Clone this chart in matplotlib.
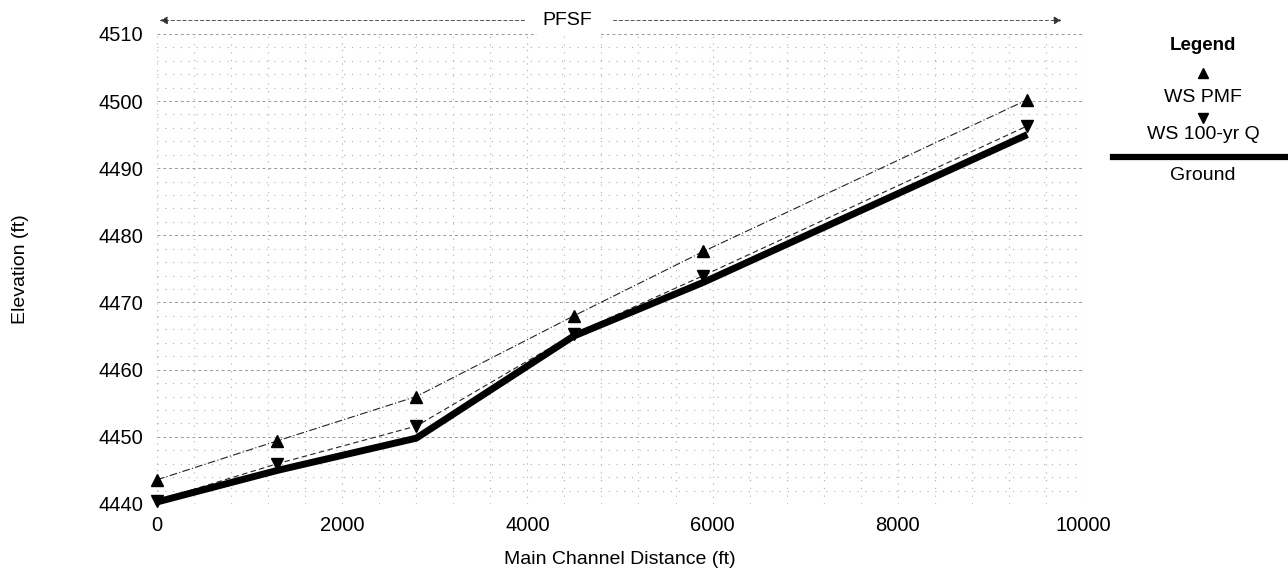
import matplotlib.pyplot as plt
from matplotlib.ticker import MultipleLocator

plt.rcParams['font.family'] = ['Liberation Sans', 'DejaVu Sans']

# data
distance = [0, 1300, 2800, 4500, 5900, 9400]
ws_pmf = [4443.6, 4449.4, 4456.0, 4468.0, 4477.6, 4500.2]
ws_100yr = [4440.5, 4446.0, 4451.6, 4465.3, 4474.0, 4496.3]
ground = [4440.3, 4445.0, 4449.8, 4465.0, 4473.0, 4495.0]

fig = plt.figure(figsize=(12.88, 5.74), dpi=100)
ax = fig.add_axes([0.1219, 0.122, 0.7189, 0.819])

# grid - faint, like the scanned original
ax.xaxis.set_major_locator(MultipleLocator(2000))
ax.xaxis.set_minor_locator(MultipleLocator(400))
ax.yaxis.set_major_locator(MultipleLocator(10))
ax.yaxis.set_minor_locator(MultipleLocator(2))
ax.grid(which='major', axis='y', color='#999999', linestyle=(0, (3, 3)), linewidth=0.7)
ax.grid(which='major', axis='x', color='#aaaaaa', linestyle=(0, (1, 5)), linewidth=0.8)
ax.grid(which='minor', color='#b0b0b0', linestyle=(0, (1, 6)), linewidth=0.8)
ax.set_axisbelow(True)

ax.plot(distance, ws_pmf, color='#222222', lw=0.8, linestyle=(0, (7, 2, 1, 2)),
        marker='^', markersize=8, markerfacecolor='black', markeredgecolor='black',
        clip_on=False)
ax.plot(distance, ws_100yr, color='#222222', lw=0.8, linestyle=(0, (5, 3)),
        marker='v', markersize=8, markerfacecolor='black', markeredgecolor='black',
        clip_on=False)
ax.plot(distance, ground, color='black', lw=5, solid_capstyle='butt', clip_on=False)

ax.set_xlim(0, 10000)
ax.set_ylim(4440, 4510)

for s in ax.spines.values():
    s.set_visible(False)
ax.tick_params(which='both', length=0, labelsize=14.5, colors='black')
ax.tick_params(axis='y', pad=10)
ax.tick_params(axis='x', pad=9)

ax.set_xlabel('Main Channel Distance (ft)', fontsize=14, labelpad=11)
ax.set_ylabel('Elevation (ft)', fontsize=14, labelpad=50)

# PFSF extent annotation
ax.annotate('', xy=(0, 4512), xytext=(4000, 4512), annotation_clip=False,
            arrowprops=dict(arrowstyle='-|>', color='#333333', lw=0.6,
                            linestyle=(0, (4, 3)), mutation_scale=12))
ax.annotate('', xy=(9800, 4512), xytext=(4900, 4512), annotation_clip=False,
            arrowprops=dict(arrowstyle='-|>', color='#333333', lw=0.6,
                            linestyle=(0, (4, 3)), mutation_scale=12))
ax.text(4430, 4512, 'PFSF', ha='center', va='center', fontsize=14,
        backgroundcolor='white', clip_on=False)

# legend drawn by hand at right side
fig.text(0.934, 0.92, 'Legend', ha='center', va='center', fontsize=13.5, fontweight='bold')
fig.lines.append(plt.Line2D([0.934], [0.873], marker='^', color='black',
                            markersize=7, transform=fig.transFigure))
fig.text(0.934, 0.831, 'WS PMF', ha='center', va='center', fontsize=14)
fig.lines.append(plt.Line2D([0.934], [0.795], marker='v', color='black',
                            markersize=7, transform=fig.transFigure))
fig.text(0.934, 0.765, 'WS 100-yr Q', ha='center', va='center', fontsize=14)
fig.lines.append(plt.Line2D([0.864, 1.0], [0.727, 0.727], color='black', lw=4.5,
                            transform=fig.transFigure))
fig.text(0.934, 0.695, 'Ground', ha='center', va='center', fontsize=14)

fig.savefig('out.png', dpi=100, facecolor='white')
